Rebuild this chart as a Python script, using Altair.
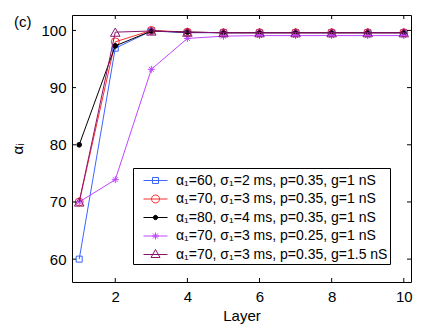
import altair as alt
import pandas as pd

# ---------------- data ----------------
layers = [1, 2, 3, 4, 5, 6, 7, 8, 9, 10]
series_labels = [
    "α₁=60, σ₁=2 ms, p=0.35, g=1 nS\u00a0\u00a0",
    "α₁=70, σ₁=3 ms, p=0.35, g=1 nS\u00a0\u00a0",
    "α₁=80, σ₁=4 ms, p=0.35, g=1 nS\u00a0\u00a0",
    "α₁=70, σ₁=3 ms, p=0.25, g=1 nS\u00a0\u00a0",
    "α₁=70, σ₁=3 ms, p=0.35, g=1.5 nS\u00a0\u00a0",
]
alpha_blue = [60, 96.9, 99.9, 99.6, 99.6, 99.6, 99.6, 99.6, 99.6, 99.6]
alpha_red = [70, 98.0, 100.0, 99.7, 99.6, 99.6, 99.6, 99.6, 99.6, 99.6]
alpha_black = [80, 97.3, 99.9, 99.7, 99.6, 99.6, 99.6, 99.6, 99.6, 99.6]
alpha_violet = [70, 73.9, 93.2, 98.6, 99.0, 99.1, 99.1, 99.1, 99.1, 99.1]
alpha_purple = [70, 99.7, 99.9, 99.7, 99.6, 99.6, 99.6, 99.6, 99.6, 99.6]
x_ticks = [2, 4, 6, 8, 10]
y_ticks = [60, 70, 80, 90, 100]

all_series = [alpha_blue, alpha_red, alpha_black, alpha_violet, alpha_purple]
rows = []
for k, (lab, vals) in enumerate(zip(series_labels, all_series)):
    for l, v in zip(layers, vals):
        rows.append({"layer": l, "alpha": v, "series": lab, "k": k})
df = pd.DataFrame(rows)

# ---------------- styles ----------------
colors = ["#3c64ff", "#ff2d2d", "#000000", "#c045ff", "#8a1470"]
fills = ["transparent", "transparent", "#000000", "transparent", "transparent"]
asterisk = "M-1,0H1M0,-1V1M-0.7,-0.7L0.7,0.7M-0.7,0.7L0.7,-0.7"
point_shapes = ["square", "circle", "circle", asterisk, "triangle-up"]
point_sizes = [36, 64, 22, 49, 90]
line_path = "M-0.2,0H2.2"
legend_shapes = [
    line_path + "M0.7,-0.3H1.3V0.3H0.7Z",
    line_path + "M0.6,0A0.4,0.4 0 1,1 1.4,0A0.4,0.4 0 1,1 0.6,0Z",
    line_path + "M0.78,0A0.22,0.22 0 1,1 1.22,0A0.22,0.22 0 1,1 0.78,0Z",
    line_path + "M0.65,0H1.35M1,-0.35V0.35M0.75,-0.25L1.25,0.25M0.75,0.25L1.25,-0.25",
    line_path + "M1,-0.5L1.45,0.3H0.55Z",
]

W, H = 339, 267
FONT = "Liberation Sans"

xscale = alt.Scale(domain=[0.8, 10.2], nice=False, zero=False)
yscale = alt.Scale(domain=[56, 102.7], nice=False, zero=False)

x_axis = alt.Axis(values=x_ticks, title="Layer", ticks=False, tickSize=0,
                  domain=False, grid=False, labelPadding=7, titlePadding=4,
                  labelFontSize=15, titleFontSize=15, titleFontWeight="normal")
y_axis = alt.Axis(values=y_ticks, title="αᵢ", ticks=False, tickSize=0,
                  domain=False, grid=False, labelPadding=6,
                  labelFontSize=15, titleFontSize=15, titleFontWeight="normal",
                  titleX=-55, titleY=H / 2, titleAlign="center",
                  titleBaseline="middle")

base = alt.Chart(df)
series_layers = []
for k, lab in enumerate(series_labels):
    sub = base.transform_filter(alt.datum.k == k)
    ln = sub.mark_line(strokeWidth=1, color=colors[k]).encode(
        x=alt.X("layer:Q", scale=xscale, axis=x_axis),
        y=alt.Y("alpha:Q", scale=yscale, axis=y_axis),
        order="layer:Q",
    )
    pt = sub.mark_point(
        shape=point_shapes[k], size=point_sizes[k], stroke=colors[k],
        fill=fills[k], strokeWidth=1, opacity=1, filled=False,
    ).encode(x="layer:Q", y="alpha:Q")
    series_layers += [ln, pt]

leg = alt.Legend(title=None)
legend_layer = base.mark_point(clip=True, size=400, strokeWidth=1, opacity=1).encode(
    x="layer:Q",
    y=alt.value(-500),
    stroke=alt.Stroke("series:N", scale=alt.Scale(domain=series_labels, range=colors),
                      legend=leg),
    fill=alt.Fill("series:N", scale=alt.Scale(domain=series_labels, range=fills),
                  legend=leg),
    shape=alt.Shape("series:N", scale=alt.Scale(domain=series_labels, range=legend_shapes),
                    legend=leg),
)

tick_x = pd.DataFrame({"t": x_ticks})
tick_y = pd.DataFrame({"t": y_ticks})
tb = alt.Chart(tick_x).mark_rule(color="black", strokeWidth=1).encode(
    x=alt.X("t:Q"), y=alt.value(H), y2=alt.value(H - 4))
tt = alt.Chart(tick_x).mark_rule(color="black", strokeWidth=1).encode(
    x=alt.X("t:Q"), y=alt.value(0), y2=alt.value(4))
tl = alt.Chart(tick_y).mark_rule(color="black", strokeWidth=1).encode(
    y=alt.Y("t:Q"), x=alt.value(0), x2=alt.value(4))
tr = alt.Chart(tick_y).mark_rule(color="black", strokeWidth=1).encode(
    y=alt.Y("t:Q"), x=alt.value(W), x2=alt.value(W - 4))

panel_label = alt.Chart(pd.DataFrame({"t": ["(c)"]})).mark_text(
    align="left", baseline="middle", fontSize=15, font=FONT, color="black").encode(
    text="t:N", x=alt.value(-58), y=alt.value(7))

chart = alt.layer(*series_layers, legend_layer, tb, tt, tl, tr, panel_label).properties(
    width=W, height=H,
    autosize=alt.AutoSizeParams(type="none"),
    padding={"left": 64, "top": 7, "right": 6, "bottom": 42},
).configure(
    font=FONT,
).configure_view(
    stroke="black", strokeWidth=1,
).configure_axis(
    labelFont=FONT, titleFont=FONT, labelColor="black", titleColor="black",
).configure_legend(
    orient="none", legendX=61, legendY=153,
    strokeColor="black", fillColor="white", padding=2,
    symbolSize=400, symbolStrokeWidth=1, symbolOpacity=1,
    labelFont=FONT, labelFontSize=14, labelOffset=20, labelLimit=500,
    labelColor="black", rowPadding=0.5, cornerRadius=0,
)

chart.save("out.html", embed_options={"renderer": "svg", "actions": False})
